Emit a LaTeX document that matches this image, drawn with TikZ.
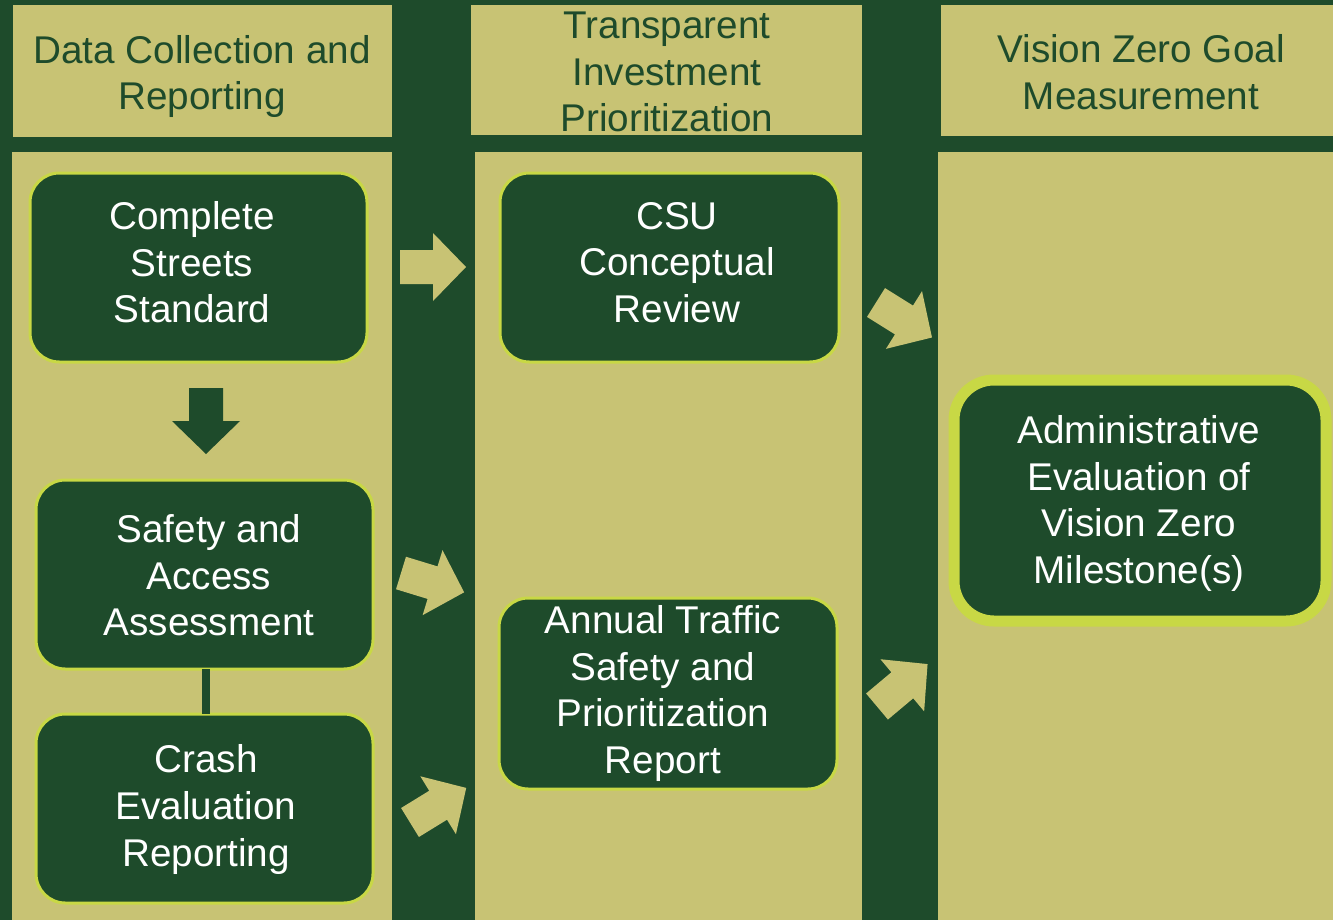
\documentclass[tikz,border=0pt]{standalone}
\usepackage{fontspec}
\setmainfont{Liberation Sans}
\definecolor{dkgreen}{HTML}{1E4B2B}
\definecolor{khaki}{HTML}{C8C374}
\definecolor{lime}{HTML}{C8D845}
\begin{document}
\begin{tikzpicture}[x=0.75pt,y=-0.75pt,
  every node/.style={inner sep=0pt,outer sep=0pt},
  bigfont/.style={font=\fontsize{29}{35}\selectfont},
  header/.style={bigfont,text=dkgreen,align=center},
  boxtext/.style={bigfont,text=white,align=center},
  stepbox/.style={fill=dkgreen,draw=lime,line width=2.25pt,rounded corners=22pt,minimum height=141.75pt},
  pics/blockarrow/.style={code={\fill[#1] (0,-17) -- (33,-17) -- (33,-34) -- (66,0) -- (33,34) -- (33,17) -- (0,17) -- cycle;}}
]
\useasboundingbox (0,0) rectangle (1333,920);
\fill[dkgreen] (0,0) rectangle (1333,920);
% headers
\fill[khaki] (13,5) rectangle (392,137);
\fill[khaki] (471,5) rectangle (862,135);
\fill[khaki] (941,5) rectangle (1333,136);
% column bodies
\fill[khaki] (12,152) rectangle (392,920);
\fill[khaki] (475,152) rectangle (862,920);
\fill[khaki] (938,152) rectangle (1333,920);
% header texts
\node[header] (h1) at (202,76.5) {Data Collection and\\Reporting};
\node[header] (h2) at (667,72) {Transparent\\Investment\\Prioritization};
\node[header] (h3) at (1141,72.5) {Vision Zero Goal\\Measurement};
% boxes
\node[stepbox,minimum width=252.75pt] (css) at (198.5,267.5) {};
\node[stepbox,minimum width=252.75pt] (saa) at (204.5,574.5) {};
\node[stepbox,minimum width=252.75pt] (cer) at (204.5,808.5) {};
\node[stepbox,minimum width=254.25pt] (csu) at (669.5,267.5) {};
\node[stepbox,minimum width=253.5pt,minimum height=143.25pt] (ats) at (668,693.5) {};
\node[stepbox,minimum width=279pt,minimum height=180.75pt,line width=8.25pt,rounded corners=30pt] (ae) at (1140,500.5) {};
% box texts
\node[boxtext] (csst) at (192,262.5) {Complete\\Streets\\Standard};
\node[boxtext] (saat) at (209,575.5) {Safety and\\Access\\Assessment};
\node[boxtext] (cert) at (206,809.5) {Crash\\Evaluation\\Reporting};
\node[boxtext] (csut) at (677,262.5) {CSU\\Conceptual\\Review};
\node[boxtext] (atst) at (663,693.5) {Annual Traffic\\Safety and\\Prioritization\\Report};
\node[boxtext] (aet) at (1139,503.5) {Administrative\\Evaluation of\\Vision Zero\\Milestone(s)};
% connector
\draw[dkgreen,line width=6pt] ([xshift=1.1pt]saa.south) -- ([xshift=1.1pt]cer.north);
% block arrows
\pic at (206,388) [rotate=-90] {blockarrow=dkgreen};
\pic at (400,267) {blockarrow=khaki};
\pic at (401,573) [rotate=-17] {blockarrow=khaki};
\pic at (410,822.5) [rotate=31.6] {blockarrow=khaki};
\pic at (876,302.5) [rotate=-32] {blockarrow=khaki};
\pic at (877,706.5) [rotate=40] {blockarrow=khaki};
\end{tikzpicture}
\end{document}
